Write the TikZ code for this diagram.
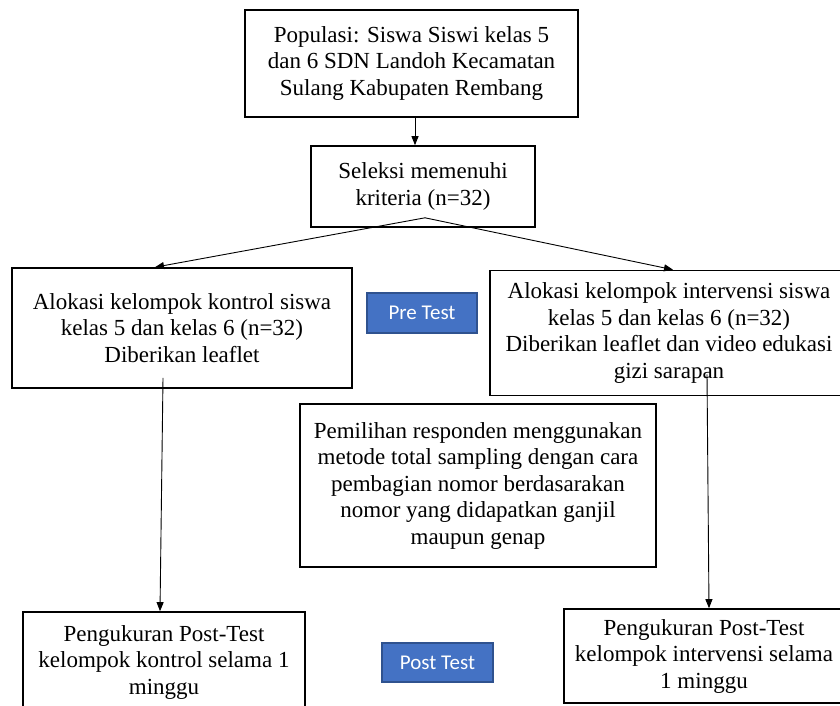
\documentclass[tikz,border=0pt]{standalone}
\usepackage{fontspec}
\setmainfont{Liberation Serif}
\newfontfamily\calib{Carlito}
\usetikzlibrary{arrows.meta,calc}
\definecolor{tagfill}{HTML}{4472C4}
\definecolor{tagline}{HTML}{2F528F}
\tikzset{
  box/.style={draw=black, line width=1.6pt, align=center, inner sep=0pt,
    font=\fontsize{23}{26.5}\selectfont},
  tag/.style={draw=tagline, line width=1.2pt, fill=tagfill, text=white,
    font=\calib\fontsize{21}{24}\selectfont, inner sep=0pt},
  arr/.style={line width=0.9pt, -{Triangle[length=9pt,width=7pt]}},
}
\begin{document}
\begin{tikzpicture}[x=1pt,y=-1pt]
\clip (0,0) rectangle (840,706);
\fill[white] (0,0) rectangle (840,706);
\node[box, minimum width=333pt, minimum height=107pt] (pop) at (411.5,63.5)
  {Populasi: Siswa Siswi kelas 5\\dan 6 SDN Landoh Kecamatan\\Sulang Kabupaten Rembang};
\node[box, minimum width=224pt, minimum height=81pt] (sel) at (423,186.5)
  {Seleksi memenuhi\\kriteria (n=32)};
\node[box, minimum width=340pt, minimum height=120pt] (ctl) at (182,328)
  {Alokasi kelompok kontrol siswa\\kelas 5 dan kelas 6 (n=32)\\Diberikan leaflet};
\node[box, minimum width=358pt, minimum height=125pt] (intv) at (669,333)
  {Alokasi kelompok intervensi siswa\\kelas 5 dan kelas 6 (n=32)\\Diberikan leaflet dan video edukasi\\gizi sarapan};
\node[tag, minimum width=110pt, minimum height=40pt] (pre) at (422,313) {Pre Test};
\node[box, minimum width=356pt, minimum height=163pt] (smp) at (478,485.5)
  {Pemilihan responden menggunakan\\metode total sampling dengan cara\\pembagian nomor berdasarakan\\nomor yang didapatkan ganjil\\maupun genap};
\node[box, minimum width=282pt, minimum height=100pt] (pk) at (164,662)
  {Pengukuran Post-Test\\kelompok kontrol selama 1\\minggu};
\node[tag, minimum width=111pt, minimum height=39pt] (post) at (437.5,662.5) {Post Test};
\node[box, minimum width=280pt, minimum height=94pt] (pi) at (704,656)
  {Pengukuran Post-Test\\kelompok intervensi selama\\1 minggu};
\coordinate (apex) at ($(sel.south)+(2,-10)$);
\draw[arr] ($(pop.south)+(3.5,0)$) -- ($(sel.north)+(-8,0)$);
\draw[arr] (apex) -- ($(ctl.north)+(-27,0)$);
\draw[arr] (apex) -- ($(intv.north)+(4,0)$);
\draw[arr] ($(ctl.south)+(-19,-11)$) -- ($(pk.north)+(-4,0)$);
\draw[arr] ($(intv.south)+(38,-22)$) -- ($(pi.north)+(5,0)$);
\end{tikzpicture}
\end{document}
